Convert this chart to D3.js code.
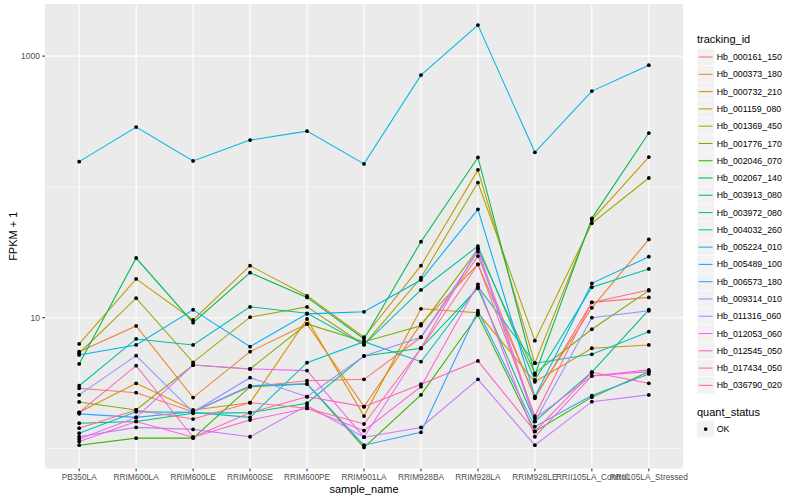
<!DOCTYPE html>
<html>
<head>
<meta charset="utf-8">
<script src="https://cdn.jsdelivr.net/npm/d3@7"></script>
<style>
  body { margin: 0; background: #fff; }
  text { font-family: "Liberation Sans", Arial, Helvetica, sans-serif; }
</style>
</head>
<body>
<script>
/* global d3 */

// x categories
var samples = ['PB350LA', 'RRIM600LA', 'RRIM600LE', 'RRIM600SE', 'RRIM600PE', 'RRIM901LA',
               'RRIM928BA', 'RRIM928LA', 'RRIM928LE', 'RRII105LA_Control', 'RRII105LA_Stressed'];

var trackingIds = ['Hb_000161_150', 'Hb_000373_180', 'Hb_000732_210', 'Hb_001159_080', 'Hb_001369_450',
                   'Hb_001776_170', 'Hb_002046_070', 'Hb_002067_140', 'Hb_003913_080', 'Hb_003972_080',
                   'Hb_004032_260', 'Hb_005224_010', 'Hb_005489_100', 'Hb_006573_180', 'Hb_009314_010',
                   'Hb_011316_060', 'Hb_012053_060', 'Hb_012545_050', 'Hb_017434_050', 'Hb_036790_020'];

// FPKM + 1, one row per tracking id, one value per sample
var fpkm = [
  [2.89, 2.67, 1.91, 2.97, 3.30, 3.38, 7.09, 29.6, 2.42, 13.1, 14.3],
  [5.50, 8.65, 2.45, 5.50, 8.96, 2.09, 8.96, 25.6, 2.49, 11.9, 39.7],
  [1.89, 3.15, 1.97, 2.24, 9.78, 1.77, 11.7, 10.9, 3.24, 5.84, 6.19],
  [6.30, 19.8, 9.61, 25.0, 14.7, 7.09, 25.0, 135, 4.49, 55.8, 169],
  [5.35, 14.1, 4.56, 10.1, 12.1, 6.22, 20.2, 108, 6.67, 52.7, 117],
  [2.27, 1.97, 4.35, 4.06, 8.96, 6.56, 8.69, 33.5, 3.76, 8.16, 16.1],
  [1.06, 1.20, 1.20, 2.97, 3.12, 1.02, 2.57, 10.5, 1.35, 2.47, 3.87],
  [4.43, 28.6, 9.16, 22.1, 14.3, 6.88, 38.1, 168, 3.65, 57.5, 258],
  [1.56, 1.61, 1.86, 1.88, 2.22, 5.10, 5.84, 16.8, 1.61, 3.83, 11.5],
  [3.02, 6.88, 6.19, 12.1, 10.8, 6.22, 16.3, 35.3, 3.34, 17.1, 23.6],
  [1.31, 1.91, 1.89, 1.73, 4.53, 6.56, 4.61, 17.3, 4.49, 5.25, 7.82],
  [156, 287, 158, 228, 267, 150, 716, 1726, 184, 540, 853],
  [5.19, 6.19, 11.5, 6.01, 10.7, 11.1, 19.4, 67.4, 2.49, 18.3, 29.3],
  [1.84, 1.73, 1.91, 3.02, 3.12, 1.06, 1.33, 11.3, 1.47, 2.54, 3.72],
  [2.57, 5.13, 1.90, 3.48, 2.49, 5.10, 7.09, 32.0, 1.61, 10.0, 11.3],
  [1.23, 1.45, 1.40, 1.23, 2.13, 1.22, 1.45, 3.38, 1.06, 2.28, 2.57],
  [1.18, 1.73, 4.35, 4.06, 3.94, 1.22, 5.84, 33.9, 1.70, 3.59, 3.99],
  [1.13, 1.61, 1.22, 1.65, 2.03, 1.37, 2.97, 18.0, 1.23, 3.59, 3.87],
  [1.89, 4.30, 1.22, 1.88, 2.49, 2.09, 3.10, 4.67, 1.35, 3.83, 3.15],
  [1.43, 1.97, 1.68, 2.24, 2.03, 1.54, 5.84, 25.6, 1.77, 13.1, 16.3]
];

var yBreaks = [10, 1000];
var yMinorBreaks = [1, 100];

// ggplot default hue palette for 20 groups
var palette = ['#F8766D', '#EA8331', '#D89000', '#C09B00', '#A3A500', '#7CAE00', '#39B600', '#00BB4E',
               '#00BF7D', '#00C1A3', '#00BFC4', '#00BAE0', '#00B0F6', '#35A2FF', '#9590FF', '#C77CFF',
               '#E76BF3', '#FA62DB', '#FF62BC', '#FF6C91'];

var width = 800, height = 500;
var panel = {left: 45, right: 683, top: 4, bottom: 468.5};

var svg = d3.select('body').append('svg')
            .attr('width', width)
            .attr('height', height)
            .attr('xmlns', 'http://www.w3.org/2000/svg');

// Scales (discrete x with 0.6 unit expansion, log y with 5% expansion)
var x = d3.scalePoint()
          .domain(samples)
          .range([panel.left, panel.right])
          .padding(0.6);

var allValues = d3.merge(fpkm);
var lo = Math.log10(d3.min(allValues)),
    hi = Math.log10(d3.max(allValues)),
    pad = (hi - lo) * 0.05;

var y = d3.scaleLog()
          .domain([Math.pow(10, lo - pad), Math.pow(10, hi + pad)])
          .range([panel.bottom, panel.top]);

// Panel background + grid
svg.append('rect')
   .attr('x', panel.left)
   .attr('y', panel.top)
   .attr('width', panel.right - panel.left)
   .attr('height', panel.bottom - panel.top)
   .style('fill', '#EBEBEB');

var grid = svg.append('g');

grid.selectAll('line.minor')
  .data(yMinorBreaks)
  .enter()
  .append('line')
    .attr('x1', panel.left)
    .attr('x2', panel.right)
    .attr('y1', function(d){ return y(d); })
    .attr('y2', function(d){ return y(d); })
    .style('stroke', '#fff')
    .style('stroke-width', 0.53);

grid.selectAll('line.majory')
  .data(yBreaks)
  .enter()
  .append('line')
    .attr('x1', panel.left)
    .attr('x2', panel.right)
    .attr('y1', function(d){ return y(d); })
    .attr('y2', function(d){ return y(d); })
    .style('stroke', '#fff')
    .style('stroke-width', 1.07);

grid.selectAll('line.majorx')
  .data(samples)
  .enter()
  .append('line')
    .attr('x1', function(d){ return x(d); })
    .attr('x2', function(d){ return x(d); })
    .attr('y1', panel.top)
    .attr('y2', panel.bottom)
    .style('stroke', '#fff')
    .style('stroke-width', 1.07);

// Lines
var line = d3.line()
             .x(function(d, i){ return x(samples[i]); })
             .y(function(d){ return y(d); });

svg.append('g')
  .selectAll('path')
  .data(fpkm)
  .enter()
  .append('path')
    .attr('d', line)
    .style('fill', 'none')
    .style('stroke', function(d, i){ return palette[i]; })
    .style('stroke-width', 1.07);

// Points
svg.append('g')
  .selectAll('g')
  .data(fpkm)
  .enter()
  .append('g')
  .each(function(row){
    d3.select(this).selectAll('circle')
      .data(row)
      .enter()
      .append('circle')
        .attr('cx', function(d, i){ return x(samples[i]); })
        .attr('cy', function(d){ return y(d); })
        .attr('r', 1.9)
        .style('fill', 'black');
  });

// Axes
var yAxis = svg.append('g');

yAxis.selectAll('line')
  .data(yBreaks)
  .enter()
  .append('line')
    .attr('x1', panel.left - 2.7)
    .attr('x2', panel.left)
    .attr('y1', function(d){ return y(d); })
    .attr('y2', function(d){ return y(d); })
    .style('stroke', '#333')
    .style('stroke-width', 1.07);

yAxis.selectAll('text')
  .data(yBreaks)
  .enter()
  .append('text')
    .attr('x', panel.left - 5)
    .attr('y', function(d){ return y(d) + 3.1; })
    .style('text-anchor', 'end')
    .style('font-size', '8.5px')
    .style('fill', '#4D4D4D')
    .text(function(d){ return d; });

var xAxis = svg.append('g');

xAxis.selectAll('line')
  .data(samples)
  .enter()
  .append('line')
    .attr('x1', function(d){ return x(d); })
    .attr('x2', function(d){ return x(d); })
    .attr('y1', panel.bottom)
    .attr('y2', panel.bottom + 2.7)
    .style('stroke', '#333')
    .style('stroke-width', 1.07);

xAxis.selectAll('text')
  .data(samples)
  .enter()
  .append('text')
    .attr('x', function(d){ return x(d); })
    .attr('y', panel.bottom + 11.5)
    .style('text-anchor', 'middle')
    .style('font-size', '8.3px')
    .style('fill', '#4D4D4D')
    .text(function(d){ return d; });

// Axis titles
svg.append('text')
   .attr('x', (panel.left + panel.right) / 2)
   .attr('y', 493)
   .style('text-anchor', 'middle')
   .style('font-size', '11px')
   .style('fill', 'black')
   .text('sample_name');

svg.append('text')
   .attr('transform', 'translate(17,' + ((panel.top + panel.bottom) / 2) + ') rotate(-90)')
   .style('text-anchor', 'middle')
   .style('font-size', '11px')
   .style('fill', 'black')
   .text('FPKM + 1');

// Legend: tracking_id
var keySize = 17.28, legX = 697, legY = 48.4;
var legend = svg.append('g');

legend.append('text')
   .attr('x', legX)
   .attr('y', 43)
   .style('font-size', '11px')
   .style('fill', 'black')
   .text('tracking_id');

var keys = legend.selectAll('g.key')
  .data(trackingIds)
  .enter()
  .append('g')
    .attr('transform', function(d, i){ return 'translate(' + legX + ',' + (legY + i * keySize) + ')'; });

keys.append('rect')
    .attr('width', keySize)
    .attr('height', keySize)
    .style('fill', '#F2F2F2')
    .style('stroke', '#fff')
    .style('stroke-width', 0.5);

keys.append('line')
    .attr('x1', 1.7)
    .attr('x2', keySize - 1.7)
    .attr('y1', keySize / 2)
    .attr('y2', keySize / 2)
    .style('stroke', function(d, i){ return palette[i]; })
    .style('stroke-width', 1.07);

keys.append('text')
    .attr('x', keySize + 2.5)
    .attr('y', keySize / 2 + 3.1)
    .style('font-size', '8.8px')
    .style('fill', 'black')
    .text(function(d){ return d; });

// Legend: quant_status
legend.append('text')
   .attr('x', legX)
   .attr('y', 416)
   .style('font-size', '11px')
   .style('fill', 'black')
   .text('quant_status');

var okKey = legend.append('g').attr('transform', 'translate(' + legX + ',420.4)');

okKey.append('rect')
   .attr('width', keySize)
   .attr('height', keySize)
   .style('fill', '#F2F2F2')
   .style('stroke', '#fff')
   .style('stroke-width', 0.5);

okKey.append('circle')
   .attr('cx', keySize / 2)
   .attr('cy', keySize / 2)
   .attr('r', 1.9)
   .style('fill', 'black');

okKey.append('text')
   .attr('x', keySize + 2.5)
   .attr('y', keySize / 2 + 3.1)
   .style('font-size', '8.8px')
   .style('fill', 'black')
   .text('OK');
</script>
</body>
</html>
